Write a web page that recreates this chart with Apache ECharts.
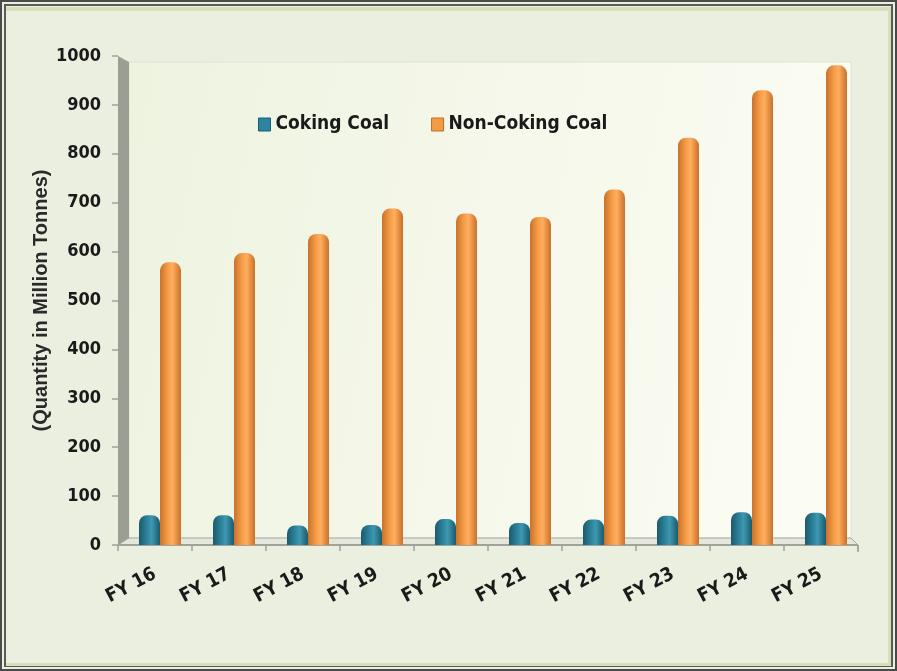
<!DOCTYPE html>
<html><head><meta charset="utf-8">
<script src="https://cdn.jsdelivr.net/npm/echarts@6/dist/echarts.min.js"></script>
<style>html,body{margin:0;padding:0;background:#fff}#c{width:897px;height:671px}</style>
</head><body><div id="c"></div>
<script>
const categories = ['FY 16','FY 17','FY 18','FY 19','FY 20','FY 21','FY 22','FY 23','FY 24','FY 25'];
const cokingCoal = [61, 61, 40, 41, 53, 45, 52, 60, 67, 66];
const nonCokingCoal = [578, 597, 636, 688, 678, 671, 727, 833, 930, 981];
const seriesNames = ['Coking Coal', 'Non-Coking Coal'];
const yAxisName = '(Quantity in Million Tonnes)';

const FONT = '"DejaVu Sans Condensed", "Liberation Sans Narrow", "Arial Narrow", sans-serif';
const chart = echarts.init(document.getElementById('c'), null, {renderer: 'canvas'});

function cyl(dark, mid, light) {
  return new echarts.graphic.LinearGradient(0, 0, 1, 0, [
    {offset: 0, color: dark}, {offset: 0.35, color: mid}, {offset: 0.6, color: light}, {offset: 1, color: dark}
  ]);
}

const GL = 118, GR = 858, GT = 56, GB = 545, SHIFT = 5;

chart.setOption({
  animation: false,
  backgroundColor: '#ebefdf',
  graphic: [
    {type: 'rect', z: -10, silent: true, shape: {x: 1, y: 1, width: 895, height: 669}, style: {fill: 'none', stroke: '#4a4a4a', lineWidth: 2}},
    {type: 'rect', z: -10, silent: true, shape: {x: 5, y: 5, width: 887, height: 661}, style: {fill: 'none', stroke: '#5a5a5a', lineWidth: 2}},
    {type: 'rect', z: -10, silent: true, shape: {x: 6, y: 7, width: 885, height: 4}, style: {fill: '#d5e1bb'}},
    {type: 'rect', z: -10, silent: true, shape: {x: 6, y: 663, width: 885, height: 3}, style: {fill: '#d5e1bb'}},
    {type: 'rect', z: -10, silent: true, shape: {x: 888, y: 7, width: 3, height: 659}, style: {fill: '#d5e1bb'}},
    {type: 'rect', z: -5, silent: true, shape: {x: 129, y: 62, width: 722, height: 476},
      style: {fill: new echarts.graphic.LinearGradient(0, 0, 1, 0.3, [{offset: 0, color: '#eef3e0'}, {offset: 1, color: '#fbfcf3'}]), stroke: '#dfe3d3', lineWidth: 1}},
    {type: 'polygon', z: -4, silent: true, shape: {points: [[118, 56], [129, 62], [129, 538], [118, 545]]}, style: {fill: '#9a9e94'}},
    {type: 'polygon', z: -4, silent: true, shape: {points: [[118, 545], [129, 538], [851, 538], [858, 545]]}, style: {fill: '#e4e7dc', stroke: '#a6a9a0', lineWidth: 1}},
    {type: 'line', z: -3, silent: true, shape: {x1: 118, y1: 545, x2: 858, y2: 545}, style: {stroke: '#a0a39a', lineWidth: 2}},
    {type: 'line', z: -3, silent: true, shape: {x1: 858, y1: 545, x2: 858, y2: 552}, style: {stroke: '#a0a39a', lineWidth: 1.5}}
  ],
  legend: {
    left: 253, top: 110,
    itemWidth: 12, itemHeight: 13, itemGap: 42,
    icon: 'rect',
    textStyle: {fontFamily: FONT, fontWeight: 'bold', fontSize: 19, color: '#1a1a1a'},
    data: [
      {name: seriesNames[0], itemStyle: {color: '#2e84a0', borderColor: '#1c5f73', borderWidth: 1}},
      {name: seriesNames[1], itemStyle: {color: '#f39c45', borderColor: '#c06e22', borderWidth: 1}}
    ]
  },
  grid: [
    {left: GL, right: 897 - GR, top: GT, bottom: 671 - GB, containLabel: false},
    {left: GL + SHIFT, right: 897 - GR - SHIFT, top: GT, bottom: 671 - GB, containLabel: false}
  ],
  xAxis: [{
    type: 'category', data: categories, gridIndex: 0,
    axisLine: {show: false},
    axisTick: {show: true, length: 6, lineStyle: {color: '#a0a39a', width: 1.5}},
    axisLabel: {rotate: 28, margin: 28, fontFamily: FONT, fontWeight: 'bold', fontSize: 19, color: '#1a1a1a'},
    splitLine: {show: false}
  }, {
    type: 'category', data: categories, gridIndex: 1, show: false
  }],
  yAxis: [{
    type: 'value', min: 0, max: 1000, interval: 100, gridIndex: 0,
    name: yAxisName, nameLocation: 'middle', nameGap: 67, nameRotate: 90, nameMoveOverlap: false,
    nameTextStyle: {fontFamily: '"Liberation Sans", Arial, sans-serif', fontWeight: 'bold', fontSize: 20, color: '#2a2a2a'},
    axisLine: {show: false},
    axisTick: {show: true, length: 6, lineStyle: {color: '#a0a39a', width: 1.5}},
    axisLabel: {margin: 17, fontFamily: FONT, fontWeight: 'bold', fontSize: 18, color: '#1a1a1a', formatter: v => String(v)},
    splitLine: {show: false}
  }, {
    type: 'value', min: 0, max: 1000, interval: 100, gridIndex: 1, show: false
  }],
  series: [
    {
      name: seriesNames[0], type: 'bar', data: cokingCoal, xAxisIndex: 1, yAxisIndex: 1,
      barWidth: 21, barGap: '0%',
      itemStyle: {color: cyl('#1b5a6c', '#2b7f98', '#3e98b0'), borderRadius: [8, 8, 0, 0]}
    },
    {
      name: seriesNames[1], type: 'bar', data: nonCokingCoal, xAxisIndex: 1, yAxisIndex: 1,
      barWidth: 21, barGap: '0%',
      itemStyle: {color: cyl('#c9712a', '#f39a46', '#ffae5e'), borderRadius: [8, 8, 0, 0]}
    }
  ]
});
</script></body></html>
